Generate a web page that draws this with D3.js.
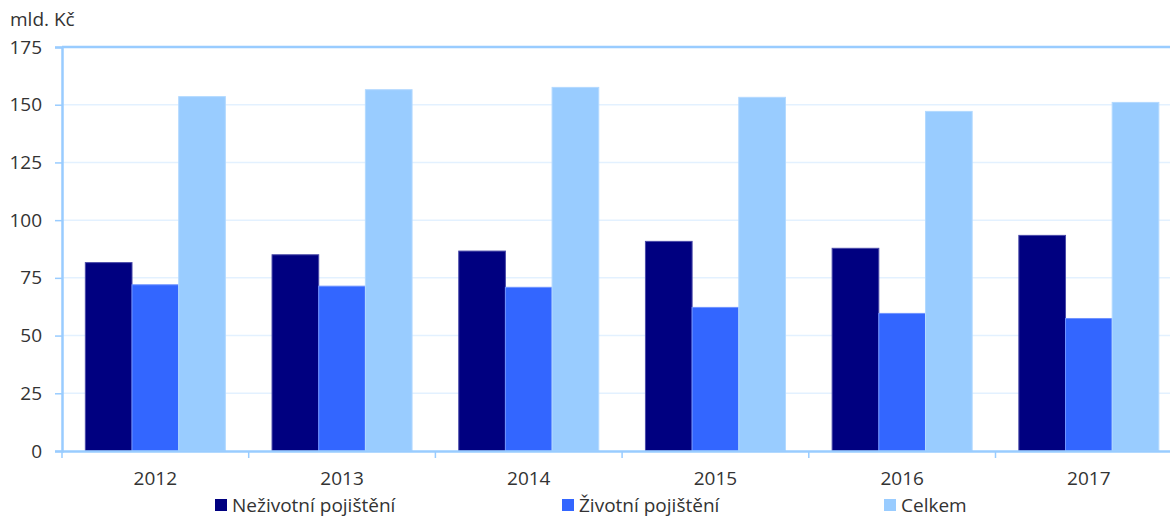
<!DOCTYPE html>
<html>
<head>
<meta charset="utf-8">
<script src="https://cdn.jsdelivr.net/npm/d3@7"></script>
<style>
  body { margin: 0; background: #fff; }
  text { font-family: "Open Sans", "Noto Sans", sans-serif; fill: #333; }
</style>
</head>
<body>
<svg id="chart" width="1170" height="517"></svg>
<script>
var years = ["2012", "2013", "2014", "2015", "2016", "2017"];
var seriesNames = ["Neživotní pojištění", "Životní pojištění", "Celkem"];
var nezivotni = [81.6, 85.0, 86.6, 90.8, 87.8, 93.4];
var zivotni = [72.0, 71.4, 70.9, 62.2, 59.6, 57.4];
var celkem = [153.5, 156.5, 157.5, 153.2, 147.1, 151.0];
var yTicks = [0, 25, 50, 75, 100, 125, 150, 175];
var colors = ["#000080", "#3366ff", "#99ccff"];

var svg = d3.select("#chart"),
    plotLeft = 62, plotTop = 47, plotBottom = 451,
    plotRight = plotLeft + 6 * 186.7;

var rows = years.map(function(y, i) {
  return { year: y, values: [nezivotni[i], zivotni[i], celkem[i]] };
});

var x = d3.scaleBand().domain(years).range([plotLeft, plotRight]).paddingInner(0.25).paddingOuter(0.125);
var xs = d3.scaleBand().domain([0, 1, 2]).range([0, x.bandwidth()]);
var y = d3.scaleLinear().domain([0, 175]).range([plotBottom, plotTop]);

// grid
svg.append("g").selectAll("line").data(yTicks.slice(1, -1)).enter()
  .append("line")
  .attr("x1", plotLeft).attr("x2", plotRight)
  .attr("y1", function(d) { return y(d); }).attr("y2", function(d) { return y(d); })
  .attr("stroke", "#e3f1ff").attr("stroke-width", 1.5);

// bars
var groups = svg.append("g").selectAll("g").data(rows).enter()
  .append("g")
  .attr("transform", function(d) { return "translate(" + x(d.year) + ",0)"; });

groups.selectAll("rect").data(function(d) { return d.values; }).enter()
  .append("rect")
  .attr("x", function(d, i) { return xs(i); })
  .attr("width", xs.bandwidth())
  .attr("y", function(d) { return y(d); })
  .attr("height", function(d) { return plotBottom - y(d); })
  .attr("fill", function(d, i) { return colors[i]; })
  .attr("stroke", function(d, i) { return i == 0 ? "#4a4aa8" : i == 1 ? "#6f93ff" : "#b3d9ff"; })
  .attr("stroke-width", 1);

// frame top
svg.append("line")
  .attr("x1", plotLeft).attr("x2", plotRight).attr("y1", plotTop).attr("y2", plotTop)
  .attr("stroke", "#99ccff").attr("stroke-width", 2.5);

// y axis
var yAxis = svg.append("g")
  .attr("transform", "translate(" + plotLeft + ",0)")
  .call(d3.axisLeft(y).tickValues(yTicks).tickSize(7).tickPadding(13));
yAxis.select(".domain").attr("stroke", "#99ccff").attr("stroke-width", 2.5);
yAxis.selectAll(".tick line").attr("stroke", "#99ccff").attr("stroke-width", 1.5);
yAxis.selectAll("text").style("font-size", "19px").attr("fill", "#333");

// x axis
var xAxis = svg.append("g")
  .attr("transform", "translate(0," + plotBottom + ")")
  .call(d3.axisBottom(x).tickSize(0).tickPadding(20.5));
xAxis.select(".domain").attr("stroke", "#99ccff").attr("stroke-width", 2.5);
xAxis.selectAll("text").style("font-size", "19px").attr("fill", "#333");

var bounds = d3.range(years.length + 1).map(function(i) { return plotLeft + i * x.step(); });
svg.append("g").selectAll("line").data(bounds).enter()
  .append("line")
  .attr("x1", function(d) { return d; }).attr("x2", function(d) { return d; })
  .attr("y1", plotBottom).attr("y2", plotBottom + 7)
  .attr("stroke", "#99ccff").attr("stroke-width", 1.5);

// unit label
svg.append("text").attr("x", 10).attr("y", 26).style("font-size", "19px").text("mld. Kč");

// legend
var legendX = [215, 562, 884];
var legend = svg.append("g").selectAll("g").data(seriesNames).enter()
  .append("g")
  .attr("transform", function(d, i) { return "translate(" + legendX[i] + ",499)"; });
legend.append("rect").attr("width", 12).attr("height", 12)
  .attr("fill", function(d, i) { return colors[i]; });
legend.append("text").attr("x", 17).attr("y", 12.5)
  .style("font-size", "19px").text(function(d) { return d; });
</script>
</body>
</html>
